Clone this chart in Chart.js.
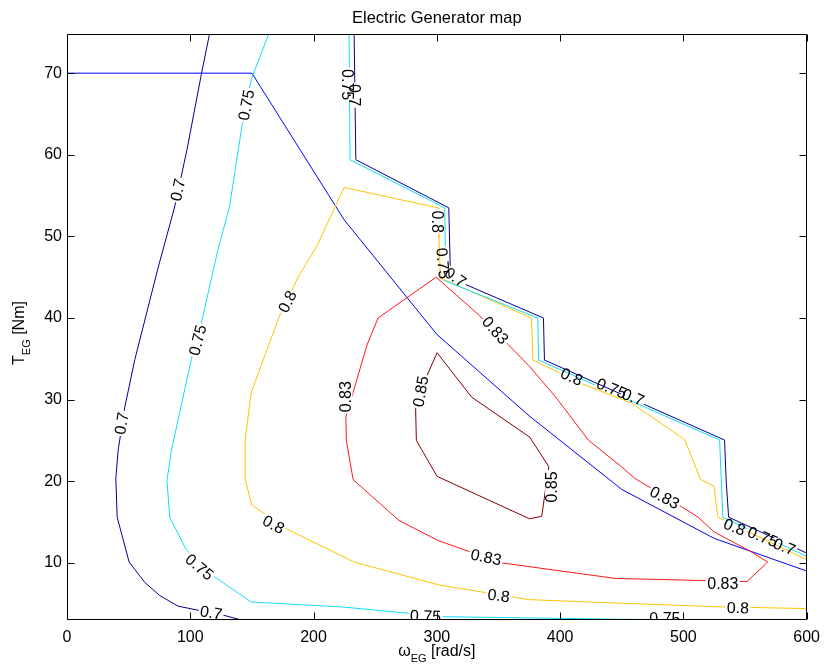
<!DOCTYPE html>
<html>
<head>
<meta charset="utf-8">
<script src="https://cdn.jsdelivr.net/npm/chart.js@4/dist/chart.umd.min.js"></script>
<style>
  html, body { margin: 0; padding: 0; background: #fff; }
  canvas { display: block; }
</style>
</head>
<body>
<canvas id="egMap" width="828" height="668"></canvas>
<script>
// axis ticks
var omegaTicks = [0, 100, 200, 300, 400, 500, 600];
var torqueTicks = [10, 20, 30, 40, 50, 60, 70];

// [omega rad/s, torque Nm]
var maxTorque = [[0,70],[150,70],[225,52],[300,38],[375,28],[450,19],[525,13],[600,9]];
var eff070Left = [[115.6,74.8],[108.9,69.8],[97.3,60.6],[87.3,53.6],[73.8,46.1],[55,34.9],[46.9,29.1],[41.5,23.8],[39.6,20.35],[40.7,15.6],[50.4,10.1],[63.1,7.6],[75.2,6.0],[90,4.7],[129.1,3.5],[141.3,3.0]];
var eff070Stair = [[232.9,75],[234.3,59.4],[309.7,53.5],[311.1,44.9],[386.5,40.0],[387.3,34.85],[533.4,25.05],[534.7,20.1],[536.7,15.6],[600,11.2]];
var eff075Left = [[163.6,74.8],[149.4,69.2],[142.1,63.7],[131.8,53.6],[122.3,48.3],[110.2,40.2],[100.8,34.9],[84.7,23.8],[81.1,20.1],[83.3,15.6],[96.8,11.6],[119.7,8.3],[149.4,5.2],[223.2,4.6],[271.7,3.9],[307,3.4],[468.7,3.05],[540,2.9]];
var eff075Stair = [[228.8,75],[229.6,59.4],[306.4,53.5],[307,48.1],[304.3,44.7],[381.9,40.0],[382.5,34.85],[529.4,25.05],[532,15.6],[600,10.8]];
var eff080 = [[600,4.4],[532,4.6],[441.5,5.1],[374.4,5.5],[301.6,7.3],[232.9,10.1],[177.7,14.2],[149.8,17.1],[144.7,20.2],[144.5,25.0],[149.3,30.8],[172.2,40.2],[187.8,45.1],[203,48.9],[224.8,56.0],[301,53.5],[301.6,49.8],[303,44.9],[376.8,40.0],[377.9,34.85],[420.2,31.8],[457.7,29.6],[501.1,25.1],[514,20.2],[524.8,19.4],[528,15.6],[600,10.4]];
var eff083 = [[568.4,10.1],[552.3,11.6],[524.8,13.8],[511.9,15.6],[498.3,16.9],[460.7,20.35],[449.6,21.8],[422.9,25.05],[396,30.4],[374.4,34.2],[358.2,36.7],[333.9,40.4],[299.4,45.0],[252.3,40.0],[243.4,36.7],[226.2,27.9],[226.6,25.0],[232.1,20.2],[269.3,15.2],[301.6,12.7],[352.6,10.0],[444.5,8.1],[551.5,7.7],[568.4,10.1]];
var eff085 = [[300.2,35.75],[328.3,30.3],[375.4,25.4],[390.8,21.8],[385.1,15.7],[375.2,15.4],[300.2,20.6],[283.4,25.0],[282.8,28.85],[292.2,33.0],[300.2,35.75]];

// contour labels
var labelText   = ['0.7','0.7','0.7','0.75','0.75','0.75','0.75','0.75','0.8','0.8','0.8','0.8','0.8','0.75','0.7','0.75','0.83','0.83','0.85','0.85','0.83','0.83','0.83','0.8','0.75','0.7','0.8','0.75','0.7','0.7'];
var labelOmega  = [89.8,44.2,117,145.3,105.9,107.5,290.9,485,178.7,167.6,350.1,544.2,300.2,305,232.9,227.5,347.5,226.2,286.8,393.2,484.9,339.9,532,409.4,441.8,459.3,541.5,564.4,581.9,315.1];
var labelTorque = [55.7,27.1,3.9,66.1,37.3,9.5,3.5,3.2,42.0,14.7,6.0,4.5,51.8,46.7,67.3,68.6,38.5,30.35,31,19.3,18.0,10.7,7.5,32.8,31.4,30.3,14.4,13.2,12.0,45.0];
var labelAngle  = [-78,-81,10,-79,-76,40,2,0,-64,28,7,1,90,85,90,90,48,-90,-80,-90,28,12,0,25,22,22,22,22,22,35];
var labelLine   = [0,0,0,2,2,2,2,2,4,4,4,4,4,3,1,3,5,5,6,6,5,5,5,4,3,1,4,3,1,1];

var FONT = '"Liberation Sans", Arial, Helvetica, sans-serif';

function pts(a) { return a.map(function (p) { return {x: p[0], y: p[1]}; }); }
function line(d, c) {
  return {data: pts(d), borderColor: c, borderWidth: 1, pointRadius: 0, showLine: true, fill: false, tension: 0};
}

function labelBox(chart, i) {
  var ctx = chart.ctx;
  ctx.font = '16px ' + FONT;
  return {
    x: chart.scales.x.getPixelForValue(labelOmega[i]),
    y: chart.scales.y.getPixelForValue(labelTorque[i]),
    a: labelAngle[i] * Math.PI / 180,
    w: ctx.measureText(labelText[i]).width + 3,
    h: 13
  };
}

var contourLabels = {
  id: 'contourLabels',
  beforeDatasetDraw: function (chart, args) {
    var ctx = chart.ctx;
    ctx.save();
    ctx.beginPath();
    ctx.rect(0, 0, chart.width, chart.height);
    for (var i = 0; i < labelText.length; i++) {
      if (labelLine[i] !== args.index) continue;
      var b = labelBox(chart, i);
      var c = Math.cos(b.a), s = Math.sin(b.a);
      var corners = [[-b.w/2,-b.h/2],[b.w/2,-b.h/2],[b.w/2,b.h/2],[-b.w/2,b.h/2]];
      corners.forEach(function (p, k) {
        var px = b.x + p[0]*c - p[1]*s, py = b.y + p[0]*s + p[1]*c;
        if (k === 0) ctx.moveTo(px, py); else ctx.lineTo(px, py);
      });
      ctx.closePath();
    }
    ctx.clip('evenodd');
  },
  afterDatasetDraw: function (chart) {
    chart.ctx.restore();
  },
  afterDatasetsDraw: function (chart) {
    var ctx = chart.ctx, area = chart.chartArea;
    ctx.save();
    ctx.beginPath();
    ctx.rect(area.left, area.top, area.right - area.left, area.bottom - area.top);
    ctx.clip();
    ctx.fillStyle = '#000';
    ctx.textAlign = 'center';
    ctx.textBaseline = 'middle';
    for (var i = 0; i < labelText.length; i++) {
      var b = labelBox(chart, i);
      ctx.save();
      ctx.translate(b.x, b.y);
      ctx.rotate(b.a);
      ctx.fillText(labelText[i], 0, 1);
      ctx.restore();
    }
    ctx.restore();
  }
};

// matlab style box, inward ticks, title and axis names
var matlabFrame = {
  id: 'matlabFrame',
  afterDraw: function (chart) {
    var ctx = chart.ctx, a = chart.chartArea;
    var xs = chart.scales.x, ys = chart.scales.y;
    var L = Math.round(a.left) + 0.5, R = Math.round(a.right) - 0.5;
    var T = Math.round(a.top) + 0.5, B = Math.round(a.bottom) - 0.5;
    ctx.save();
    ctx.strokeStyle = '#000';
    ctx.lineWidth = 1;
    ctx.beginPath();
    ctx.rect(L, T, R - L, B - T);
    omegaTicks.forEach(function (v) {
      var x = Math.round(xs.getPixelForValue(v)) + 0.5;
      ctx.moveTo(x, B); ctx.lineTo(x, B - 7);
      ctx.moveTo(x, T); ctx.lineTo(x, T + 7);
    });
    torqueTicks.forEach(function (v) {
      var y = Math.round(ys.getPixelForValue(v)) + 0.5;
      ctx.moveTo(L, y); ctx.lineTo(L + 7, y);
      ctx.moveTo(R, y); ctx.lineTo(R - 7, y);
    });
    ctx.stroke();

    ctx.fillStyle = '#000';
    ctx.textBaseline = 'alphabetic';
    ctx.textAlign = 'center';
    ctx.font = '16.5px ' + FONT;
    ctx.fillText('Electric Generator map', (a.left + a.right) / 2, 23);

    function subText(main, sub, rest) {
      ctx.font = '16px ' + FONT;
      var w1 = ctx.measureText(main).width, w3 = ctx.measureText(rest).width;
      ctx.font = '11px ' + FONT;
      var w2 = ctx.measureText(sub).width;
      var x0 = -(w1 + w2 + w3) / 2;
      ctx.textAlign = 'left';
      ctx.font = '16px ' + FONT;
      ctx.fillText(main, x0, 0);
      ctx.font = '11px ' + FONT;
      ctx.fillText(sub, x0 + w1, 6);
      ctx.font = '16px ' + FONT;
      ctx.fillText(rest, x0 + w1 + w2, 0);
    }
    ctx.save();
    ctx.translate((a.left + a.right) / 2, 656);
    subText('\u03c9', 'EG', ' [rad/s]');
    ctx.restore();
    ctx.save();
    ctx.translate(24, (a.top + a.bottom) / 2 + 6);
    ctx.rotate(-Math.PI / 2);
    subText('T', 'EG', ' [Nm]');
    ctx.restore();
    ctx.restore();
  }
};

var ctx = document.getElementById('egMap');
var egMap = new Chart(ctx, {
  type: 'scatter',
  data: {
    datasets: [
      line(eff070Left, '#00008f'),
      line(eff070Stair, '#00008f'),
      line(eff075Left, '#10dcff'),
      line(eff075Stair, '#10dcff'),
      line(eff080, '#ffc400'),
      line(eff083, '#ff1a1a'),
      line(eff085, '#800000'),
      line(maxTorque, '#0000ff')
    ]
  },
  options: {
    responsive: false,
    animation: false,
    devicePixelRatio: 1,
    layout: { padding: { top: 34, right: 19, left: 0, bottom: 0 } },
    plugins: { legend: { display: false }, tooltip: { enabled: false }, title: { display: false } },
    scales: {
      x: {
        type: 'linear', min: 0, max: 600,
        afterBuildTicks: function (s) { s.ticks = omegaTicks.map(function (v) { return {value: v}; }); },
        afterFit: function (s) { s.height = 48; },
        grid: { display: false, drawTicks: false },
        border: { display: false },
        ticks: { color: '#000', font: { family: FONT, size: 16 }, padding: 8, maxRotation: 0, autoSkip: false }
      },
      y: {
        type: 'linear', min: 3, max: 74.8,
        afterBuildTicks: function (s) { s.ticks = torqueTicks.map(function (v) { return {value: v}; }); },
        afterFit: function (s) { s.width = 67; },
        grid: { display: false, drawTicks: false },
        border: { display: false },
        ticks: { color: '#000', font: { family: FONT, size: 16 }, padding: 5, autoSkip: false }
      }
    }
  },
  plugins: [contourLabels, matlabFrame]
});
</script>
</body>
</html>
